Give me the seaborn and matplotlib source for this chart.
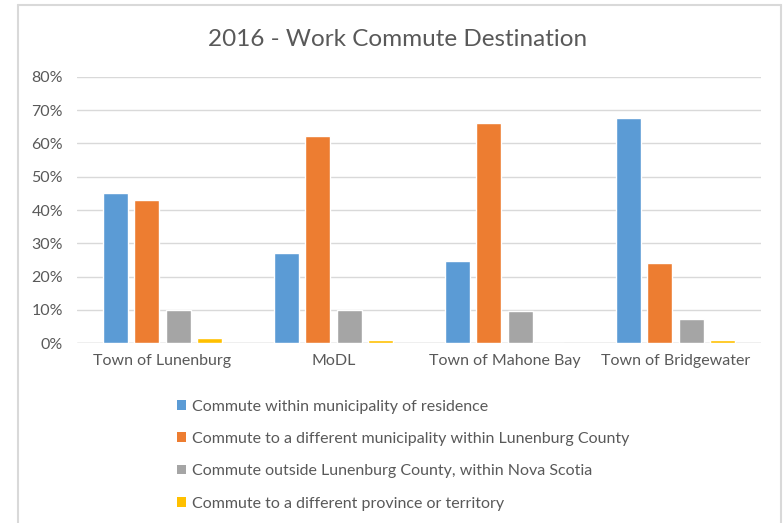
import matplotlib
matplotlib.use("Agg")
import matplotlib.pyplot as plt
from matplotlib.patches import Patch
from matplotlib.lines import Line2D
from matplotlib.ticker import PercentFormatter
import seaborn as sns
import pandas as pd

# Share of commuters (%) by destination, per municipality
municipalities = ["Town of Lunenburg", "MoDL", "Town of Mahone Bay", "Town of Bridgewater"]
within_municipality = [45.2, 27.1, 24.6, 67.5]
within_county = [43.0, 62.2, 66.2, 24.1]
within_province = [10.1, 9.9, 9.7, 7.4]
other_province = [1.6, 1.0, 0.0, 1.0]

series_names = [
    "Commute within municipality of residence",
    "Commute to a different municipality within Lunenburg County",
    "Commute outside Lunenburg County, within Nova Scotia",
    "Commute to a different province or territory",
]
colors = ["#5B9BD5", "#ED7D31", "#A5A5A5", "#FFC000"]

rows = []
for name, values in zip(series_names,
                        [within_municipality, within_county, within_province, other_province]):
    for muni, v in zip(municipalities, values):
        rows.append({"Municipality": muni, "Destination": name, "Share": v})
df = pd.DataFrame(rows)

sns.set_theme(style="white")
plt.rcParams["font.family"] = ["Lato", "DejaVu Sans"]
text_color = "#595959"

fig = plt.figure(figsize=(7.83, 5.23), dpi=100)
ax = fig.add_axes([0.0983, 0.3436, 0.8736, 0.5097])

sns.barplot(data=df, x="Municipality", y="Share", hue="Destination",
            order=municipalities, hue_order=series_names, palette=colors,
            width=0.73, gap=0.2, saturation=1, ax=ax, legend=False, zorder=3)

ax.set_ylim(0, 80)
ax.set_yticks(range(0, 81, 10))
ax.yaxis.set_major_formatter(PercentFormatter(decimals=0))
ax.set_xlim(-0.5, 3.5)
ax.set_xlabel("")
ax.set_ylabel("")
ax.grid(axis="y", color="#d9d9d9", linewidth=1.0, zorder=0)
ax.grid(axis="x", visible=False)
for s in ax.spines.values():
    s.set_visible(False)
ax.axhline(0, color="#cfcfcf", linewidth=1.0, zorder=2)
ax.tick_params(axis="both", length=0, labelsize=11.5, colors=text_color)
ax.tick_params(axis="x", pad=8)
ax.tick_params(axis="y", pad=10)

fig.text(0.508, 0.924, "2016 - Work Commute Destination", ha="center", va="center",
         fontsize=17.5, color=text_color)

handles = [Patch(facecolor=c, edgecolor="none") for c in colors]
fig.legend(handles, series_names, loc="upper left", bbox_to_anchor=(0.226, 0.236),
           frameon=False, fontsize=11.5, labelcolor=text_color,
           handlelength=0.55, handleheight=0.55, handletextpad=0.4,
           labelspacing=1.15, borderaxespad=0, borderpad=0)

# light frame around the chart area
frame_color = "#d9d9d9"
x0, x1, y0 = 17.5 / 783, 781 / 783, 1 - 5 / 523
fig.add_artist(Line2D([x0, x1], [y0, y0], color=frame_color, linewidth=1.5))
fig.add_artist(Line2D([x0, x0], [0, y0], color=frame_color, linewidth=1.5))
fig.add_artist(Line2D([x1, x1], [0, y0], color=frame_color, linewidth=1.5))

fig.savefig("out.png", dpi=100, facecolor="white")
